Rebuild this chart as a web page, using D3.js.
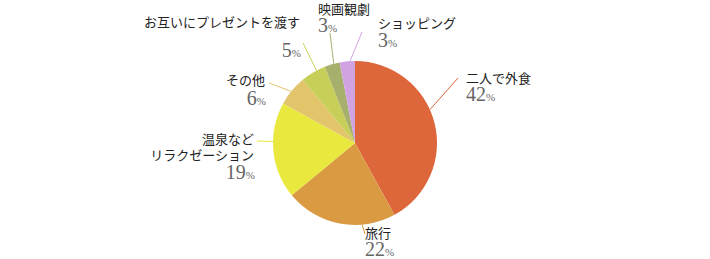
<!DOCTYPE html>
<html>
<head>
<meta charset="utf-8">
<script src="https://cdn.jsdelivr.net/npm/d3@7"></script>
<style>
  body { margin: 0; background: #fff; }
  svg { display: block; }
</style>
</head>
<body>
<div id="chart"></div>
<script>
// Data
let categories = ["二人で外食", "旅行", "温泉など\nリラクゼーション", "その他", "お互いにプレゼントを渡す", "映画観劇", "ショッピング"];
let percents = [42, 22, 19, 6, 5, 3, 3];
let colors = ["#dd663b", "#d99a41", "#e9e83f", "#e2c46b", "#c8cf58", "#a6b06c", "#d1a3e2"];

// Label layout: leader start angle (deg), leader end, text anchor point
let labelLayout = [
  { angle: 66,    lx: 458, ly: 78,  x: 466, y: 83,  anchor: "start", pctDy: 18 },
  { angle: 175,   lx: 365, ly: 234, x: 365, y: 238, anchor: "start", pctDy: 18 },
  { angle: 271,   lx: 257, ly: 141, x: 254, y: 144, anchor: "end",   pctDy: 19 },
  { angle: 309,   lx: 269, ly: 83,  x: 265, y: 85,  anchor: "end",   pctDy: 20 },
  { angle: 332,   lx: 303, ly: 43,  x: 300, y: 27,  anchor: "end",   pctDy: 30 },
  { angle: 345,   lx: 330, ly: 33,  x: 318, y: 14,  anchor: "start", pctDy: 18 },
  { angle: 356.5, lx: 362, ly: 32,  x: 378, y: 28,  anchor: "start", pctDy: 19 }
];

function BuildChart(){
  let chart_width = 710;
  let chart_height = 259;
  let cx = 355, cy = 143, radius = 82;

  let svg = d3.select('#chart')
    .append('svg')
    .attr('width', chart_width)
    .attr('height', chart_height);

  let pie = d3.pie().sort(null).value((d) => d)(percents);
  let arc = d3.arc().innerRadius(0).outerRadius(radius);

  let g = svg.append('g')
    .attr('transform', 'translate(' + cx + ',' + cy + ')');

  g.selectAll('path')
    .data(pie)
    .enter()
    .append('path')
    .attr('d', arc)
    .attr('fill', (d, i) => colors[i]);

  // Leader lines
  svg.selectAll('line.leader')
    .data(pie)
    .enter()
    .append('line')
    .attr('class', 'leader')
    .attr('x1', (d, i) => cx + radius * Math.sin(labelLayout[i].angle * Math.PI / 180))
    .attr('y1', (d, i) => cy - radius * Math.cos(labelLayout[i].angle * Math.PI / 180))
    .attr('x2', (d, i) => labelLayout[i].lx)
    .attr('y2', (d, i) => labelLayout[i].ly)
    .attr('stroke', (d, i) => colors[i])
    .attr('stroke-width', 1);

  // Labels
  categories.forEach(function(name, i){
    let L = labelLayout[i];
    let lines = name.split("\n");
    let t = svg.append('text')
      .attr('x', L.x)
      .attr('y', L.y)
      .attr('text-anchor', L.anchor)
      .style('font-family', '"Noto Sans CJK JP", sans-serif')
      .style('font-size', '13px')
      .attr('fill', '#222');
    lines.forEach(function(line, j){
      t.append('tspan')
        .attr('x', L.x)
        .attr('dy', j == 0 ? 0 : 16)
        .text(line);
    });

    let p = svg.append('text')
      .attr('x', L.anchor == "end" ? L.x + 1 : L.x)
      .attr('y', L.y + (lines.length - 1) * 16 + L.pctDy)
      .attr('text-anchor', L.anchor)
      .style('font-family', '"Liberation Serif", serif')
      .attr('fill', '#666');
    p.append('tspan')
      .style('font-size', '20px')
      .text(percents[i]);
    p.append('tspan')
      .style('font-size', '11px')
      .text('%');
  });
}

document.addEventListener('DOMContentLoaded', function(){
  BuildChart();
});
</script>
</body>
</html>
